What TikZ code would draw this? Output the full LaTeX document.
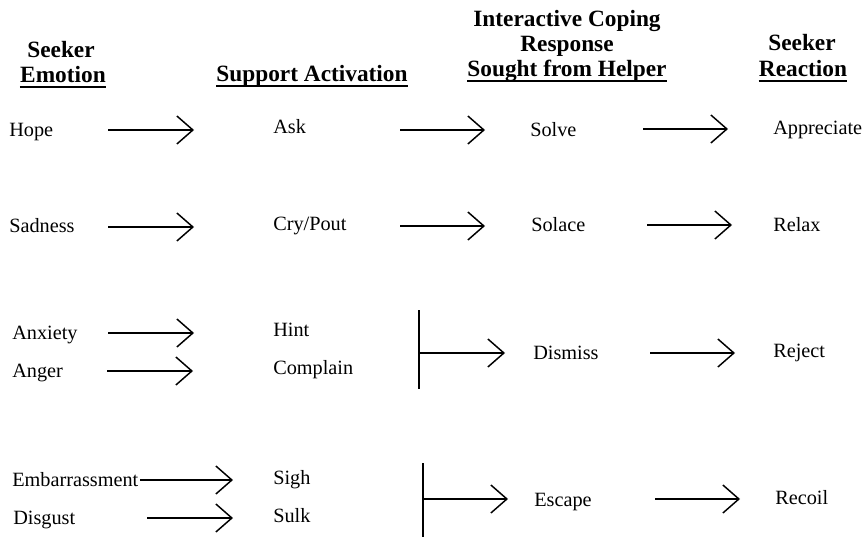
\documentclass[tikz,border=0pt]{standalone}
\usepackage{fontspec}
\setmainfont{Liberation Serif}
\usetikzlibrary{arrows.meta}
\begin{document}
\begin{tikzpicture}[x=0.75pt,y=-0.75pt,
  lbl/.style={anchor=base west,inner sep=0pt,font=\fontsize{15.2}{18}\selectfont},
  hdr/.style={anchor=base,inner sep=0pt,font=\fontsize{17.5}{18}\selectfont\bfseries},
  arr/.style={line width=0.8pt,-{Straight Barb[length=12pt,width=21pt,line width=1.1pt]}},
  brk/.style={line width=1.1pt},
  ul/.style={line width=1pt}]
\useasboundingbox (0,0) rectangle (866,538);
% headers
\node[hdr] (h1a) at (61,58) {Seeker};
\node[hdr] (h1b) at (63,83) {Emotion};
\node[hdr] (h2) at (312,82) {Support Activation};
\node[hdr] (h3a) at (567,27) {Interactive Coping};
\node[hdr] (h3b) at (567,52) {Response};
\node[hdr] (h3c) at (567,77) {Sought from Helper};
\node[hdr] (h4a) at (802,51) {Seeker};
\node[hdr] (h4b) at (803,77) {Reaction};
\foreach \n in {h1b,h2,h3c,h4b}
  \draw[ul] ([shift={(0,4)}]\n.base west) -- ([shift={(0,4)}]\n.base east);
% column 1
\node[lbl] (hope) at (9,137) {Hope};
\node[lbl] (sad) at (9,233) {Sadness};
\node[lbl] (anx) at (12,339) {Anxiety};
\node[lbl] (ang) at (12,377) {Anger};
\node[lbl] (emb) at (12,486) {Embarrassment};
\node[lbl] (dis) at (13,524) {Disgust};
% column 2
\node[lbl] (ask) at (273,134) {Ask};
\node[lbl] (cry) at (273,230) {Cry/Pout};
\node[lbl] (hint) at (273,336) {Hint};
\node[lbl] (comp) at (273,374) {Complain};
\node[lbl] (sigh) at (273,484) {Sigh};
\node[lbl] (sulk) at (273,522) {Sulk};
% column 3
\node[lbl] (solve) at (530,137) {Solve};
\node[lbl] (solace) at (531,232) {Solace};
\node[lbl] (dismiss) at (533,359) {Dismiss};
\node[lbl] (escape) at (534,506) {Escape};
% column 4
\node[lbl] (appr) at (773,135) {Appreciate};
\node[lbl] (relax) at (773,231) {Relax};
\node[lbl] (reject) at (773,357) {Reject};
\node[lbl] (recoil) at (775,504) {Recoil};
% arrow end points
\coordinate (a1s) at (108,130); \coordinate (a1e) at (194,130);
\coordinate (a2s) at (108,227); \coordinate (a2e) at (194,227);
\coordinate (a3s) at (108,333); \coordinate (a3e) at (194,333);
\coordinate (a4s) at (107,371); \coordinate (a4e) at (193,371);
\coordinate (a5s) at (140,480); \coordinate (a5e) at (233,480);
\coordinate (a6s) at (147,518); \coordinate (a6e) at (233,518);
\coordinate (b1s) at (400,130); \coordinate (b1e) at (485,130);
\coordinate (b2s) at (400,226); \coordinate (b2e) at (485,226);
\coordinate (c1s) at (643,129); \coordinate (c1e) at (728,129);
\coordinate (c2s) at (647,225); \coordinate (c2e) at (732,225);
\coordinate (c3s) at (650,353); \coordinate (c3e) at (735,353);
\coordinate (c4s) at (655,499); \coordinate (c4e) at (740,499);
% brackets
\coordinate (k1t) at (419,310); \coordinate (k1b) at (419,389);
\coordinate (k1m) at (419,353); \coordinate (k1e) at (505,353);
\coordinate (k2t) at (423,463); \coordinate (k2b) at (423,537);
\coordinate (k2m) at (423,499); \coordinate (k2e) at (508,499);
\draw[brk] (k1t) -- (k1b);
\draw[brk] (k2t) -- (k2b);
\foreach \s/\e in {a1s/a1e,a2s/a2e,a3s/a3e,a4s/a4e,a5s/a5e,a6s/a6e,b1s/b1e,b2s/b2e,c1s/c1e,c2s/c2e,c3s/c3e,c4s/c4e,k1m/k1e,k2m/k2e}
  \draw[arr] (\s) -- (\e);
\end{tikzpicture}
\end{document}
